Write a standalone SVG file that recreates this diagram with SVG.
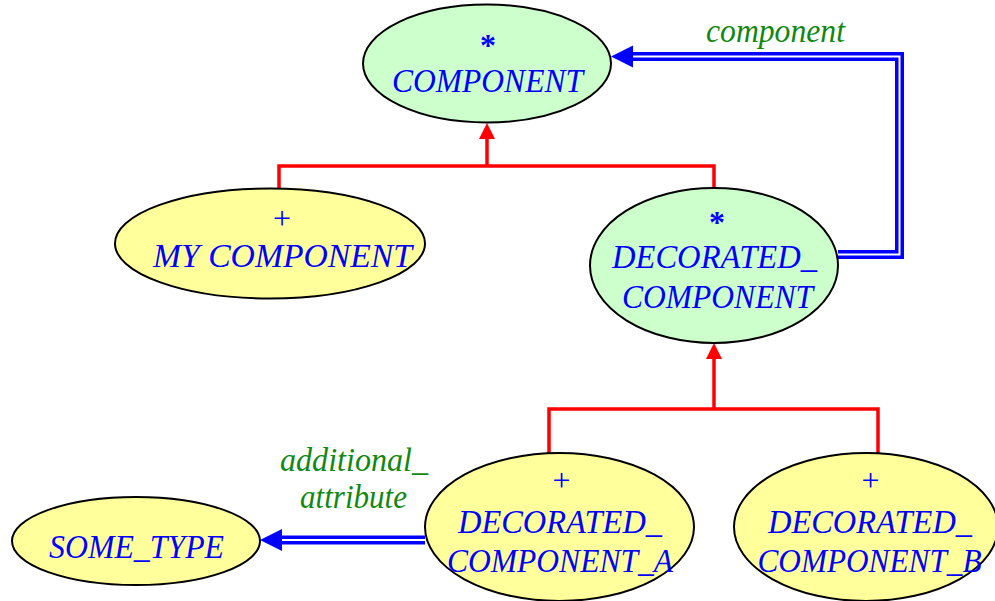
<svg xmlns="http://www.w3.org/2000/svg" width="995" height="601" viewBox="0 0 995 601">
<style>
.node ellipse{stroke:#000;stroke-width:2}
.def{fill:#CCFFCC}
.eff{fill:#FFFF9C}
.t{font-family:"Liberation Serif","Times New Roman",serif;font-style:italic;font-size:34px;fill:#0000FF;text-anchor:middle}
.s{font-family:"Liberation Serif","Times New Roman",serif;font-size:32px;fill:#0000FF;text-anchor:middle}
.st{font-weight:bold}
.lbl{font-family:"Liberation Serif","Times New Roman",serif;font-style:italic;font-size:33px;fill:#118811;text-anchor:middle}
.inh{fill:none;stroke:#FF0000;stroke-width:3.5}
.cli{fill:none;stroke:#0000FF;stroke-width:9}
.cliw{fill:none;stroke:#FFFFFF;stroke-width:2}
.redhead{fill:#FF0000}
.bluehead{fill:#0000FF}
</style>
<g id="connectors">
  <g id="inherit-top">
    <path class="inh" d="M279,190 V166 H714 V190"/>
    <path class="inh" d="M487,166 V137"/>
    <polygon class="redhead" points="487,123 479,139 495,139"/>
  </g>
  <g id="inherit-bottom">
    <path class="inh" d="M549,453 V409 H878 V453"/>
    <path class="inh" d="M714,409 V357"/>
    <polygon class="redhead" points="714,343 706,359 722,359"/>
  </g>
  <g id="client-component">
    <path class="cli" d="M838,254.5 H899.5 V56.5 H630"/>
    <path class="cliw" d="M838,254.5 H899.5 V56.5 H630"/>
    <polygon class="bluehead" points="611,56.5 633,45.5 633,67.5"/>
    <text class="lbl" x="775.5" y="42" textLength="139" lengthAdjust="spacingAndGlyphs">component</text>
  </g>
  <g id="client-attribute">
    <path class="cli" d="M425,540 H279"/>
    <path class="cliw" d="M425,540 H279"/>
    <polygon class="bluehead" points="260,540 282,529 282,551"/>
    <text class="lbl" x="354" y="471" textLength="148" lengthAdjust="spacingAndGlyphs">additional_</text>
    <text class="lbl" x="353.5" y="508" textLength="107" lengthAdjust="spacingAndGlyphs">attribute</text>
  </g>
</g>
<g id="COMPONENT" class="node">
  <ellipse class="def" cx="487" cy="63.5" rx="124" ry="59"/>
  <text class="s st" x="488" y="56">*</text>
  <text class="t" x="487.5" y="92" textLength="191" lengthAdjust="spacingAndGlyphs">COMPONENT</text>
</g>
<g id="MY_COMPONENT" class="node">
  <ellipse class="eff" cx="270" cy="243.5" rx="155" ry="55"/>
  <text class="s" x="282" y="229">+</text>
  <text class="t" x="282.5" y="267" textLength="259" lengthAdjust="spacingAndGlyphs">MY  COMPONENT</text>
</g>
<g id="DECORATED_COMPONENT" class="node">
  <ellipse class="def" cx="714" cy="265.5" rx="124" ry="77.5"/>
  <text class="s st" x="717" y="233">*</text>
  <text class="t" x="714.5" y="268" textLength="205" lengthAdjust="spacingAndGlyphs">DECORATED_</text>
  <text class="t" x="717.5" y="308" textLength="191" lengthAdjust="spacingAndGlyphs">COMPONENT</text>
</g>
<g id="DECORATED_COMPONENT_A" class="node">
  <ellipse class="eff" cx="559.5" cy="527" rx="134.5" ry="74"/>
  <text class="s" x="561.5" y="491">+</text>
  <text class="t" x="560" y="532.5" textLength="204" lengthAdjust="spacingAndGlyphs">DECORATED_</text>
  <text class="t" x="560" y="571.5" textLength="226" lengthAdjust="spacingAndGlyphs">COMPONENT_A</text>
</g>
<g id="DECORATED_COMPONENT_B" class="node">
  <ellipse class="eff" cx="866" cy="527" rx="132" ry="74"/>
  <text class="s" x="870.5" y="491">+</text>
  <text class="t" x="870" y="532.5" textLength="204" lengthAdjust="spacingAndGlyphs">DECORATED_</text>
  <text class="t" x="869.5" y="571.5" textLength="224" lengthAdjust="spacingAndGlyphs">COMPONENT_B</text>
</g>
<g id="SOME_TYPE" class="node">
  <ellipse class="eff" cx="136" cy="541" rx="124" ry="44"/>
  <text class="t" x="136.5" y="558" textLength="175" lengthAdjust="spacingAndGlyphs">SOME_TYPE</text>
</g>
</svg>
